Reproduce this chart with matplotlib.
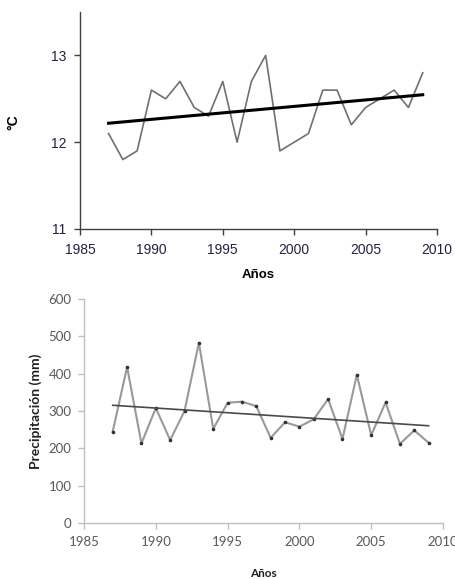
import numpy as np
import matplotlib
matplotlib.use("Agg")
import matplotlib.pyplot as plt

years = list(range(1987, 2010))
temp = [12.1, 11.8, 11.9, 12.6, 12.5, 12.7, 12.4, 12.3, 12.7, 12.0, 12.7, 13.0,
        11.9, 12.0, 12.1, 12.6, 12.6, 12.2, 12.4, 12.5, 12.6, 12.4, 12.8]
precip = [245, 418, 213, 308, 222, 300, 483, 252, 322, 325, 313, 228,
          270, 258, 278, 332, 225, 397, 235, 323, 212, 248, 215]
xticks = [1985, 1990, 1995, 2000, 2005, 2010]
temp_yticks = [11, 12, 13]
precip_yticks = [0, 100, 200, 300, 400, 500, 600]

fig = plt.figure(figsize=(4.55, 5.79), dpi=100)

# ---- Top: temperature ----
ax1 = fig.add_axes([80/455, 1-229/579, (437-80)/455, (229-12)/579])
x = np.array(years, dtype=float)
ax1.plot(x, temp, color="#707070", lw=1.2)
c1 = np.polyfit(x, temp, 1)
ax1.plot([x[0], x[-1]], np.polyval(c1, [x[0], x[-1]]), color="black", lw=2.2)
ax1.set_xlim(1985, 2010)
ax1.set_ylim(11, 13.5)
ax1.set_xticks(xticks)
ax1.set_yticks(temp_yticks)
for s in ["top", "right"]:
    ax1.spines[s].set_visible(False)
for s in ["left", "bottom"]:
    ax1.spines[s].set_color("#404040")
    ax1.spines[s].set_linewidth(1.0)
ax1.tick_params(direction="out", length=4, width=1, color="#404040",
                labelsize=10, labelcolor="#222244", pad=6)
for lab in ax1.get_xticklabels() + ax1.get_yticklabels():
    lab.set_family("Liberation Sans")
ax1.set_xlabel("Años", family="Liberation Sans", fontweight="bold", fontsize=9.5, labelpad=9)
ax1.set_ylabel("°C", family="Liberation Sans", fontweight="bold", fontsize=10)
ax1.yaxis.set_label_coords(-0.168, 0.49)

# ---- Bottom: precipitation ----
ax2 = fig.add_axes([84/455, 56/579, (443-84)/455, (523-299)/579])
ax2.plot(x, precip, color="#999999", lw=1.5, marker="o", ms=1.6,
         mfc="#333333", mec="#333333")
c2 = np.polyfit(x, precip, 1)
ax2.plot([x[0], x[-1]], np.polyval(c2, [x[0], x[-1]]), color="#4a4a4a", lw=1.2)
ax2.set_xlim(1985, 2010)
ax2.set_ylim(0, 600)
ax2.set_xticks(xticks)
ax2.set_yticks(precip_yticks)
for s in ["top", "right"]:
    ax2.spines[s].set_visible(False)
for s in ["left", "bottom"]:
    ax2.spines[s].set_color("#bfbfbf")
    ax2.spines[s].set_linewidth(1.0)
ax2.tick_params(direction="out", length=4, width=1, color="#bfbfbf",
                labelsize=9.5, labelcolor="#595959", pad=5)
for lab in ax2.get_xticklabels() + ax2.get_yticklabels():
    lab.set_family("Lato")
ax2.set_xlabel("Años", family="Lato", fontweight="bold", fontsize=8.5, labelpad=15, color="#222222")
ax2.set_ylabel("Precipitación (mm)", family="Lato", fontweight="bold", fontsize=10,
               color="#222222")
ax2.yaxis.set_label_coords(-0.117, 0.5)

fig.savefig("out.png", dpi=100)
